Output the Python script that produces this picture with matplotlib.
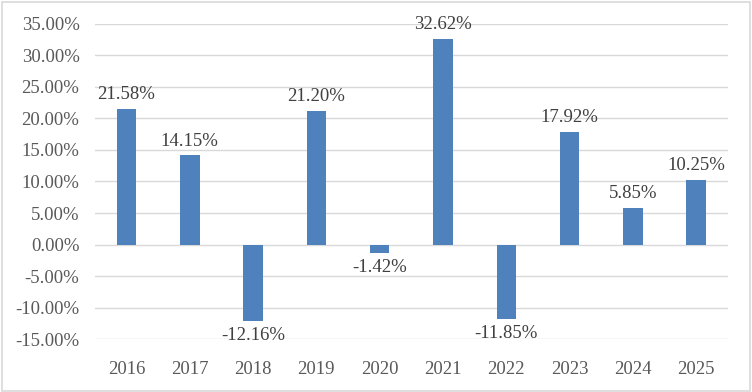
import matplotlib.pyplot as plt
from matplotlib.patches import Rectangle

# 數據
years = ['2016', '2017', '2018', '2019', '2020', '2021', '2022', '2023', '2024', '2025']
returns = [21.58, 14.15, -12.16, 21.20, -1.42, 32.62, -11.85, 17.92, 5.85, 10.25]
y_ticks = [-15, -10, -5, 0, 5, 10, 15, 20, 25, 30, 35]

plt.rcParams['font.family'] = ['Liberation Serif', 'DejaVu Serif']

fig = plt.figure(figsize=(7.52, 3.92), dpi=100)
ax = fig.add_axes([0.126, 0.135, 0.842, 0.804])

x = list(range(len(years)))
ax.bar(x, returns, width=0.31, color='#4F81BD', zorder=3)

# 數據標籤
for i, v in enumerate(returns):
    if v >= 0:
        ax.annotate('%.2f%%' % v, (i, v), xytext=(0, 4), textcoords='offset points',
                    ha='center', va='bottom', fontsize=13.5, color='#404040')
    else:
        ax.annotate('%.2f%%' % v, (i, v), xytext=(0, -4), textcoords='offset points',
                    ha='center', va='top', fontsize=13.5, color='#404040')

ax.set_xlim(-0.5, len(years) - 0.5)
ax.set_ylim(-15, 35)
ax.set_yticks(y_ticks)
ax.set_yticklabels(['%.2f%%' % t for t in y_ticks])
ax.set_xticks(x)
ax.set_xticklabels(years)
ax.tick_params(axis='both', length=0, labelsize=13.5, colors='#595959')
ax.tick_params(axis='y', pad=11)
ax.tick_params(axis='x', pad=16)
ax.grid(axis='y', color='#D9D9D9', linewidth=1, zorder=0)
for s in ax.spines.values():
    s.set_visible(False)

# 外框
fig.patches.append(Rectangle((0.002, 0.003), 0.995, 0.993, transform=fig.transFigure,
                             fill=False, edgecolor='#D9D9D9', linewidth=1.2))

plt.savefig('out.png', dpi=100)
